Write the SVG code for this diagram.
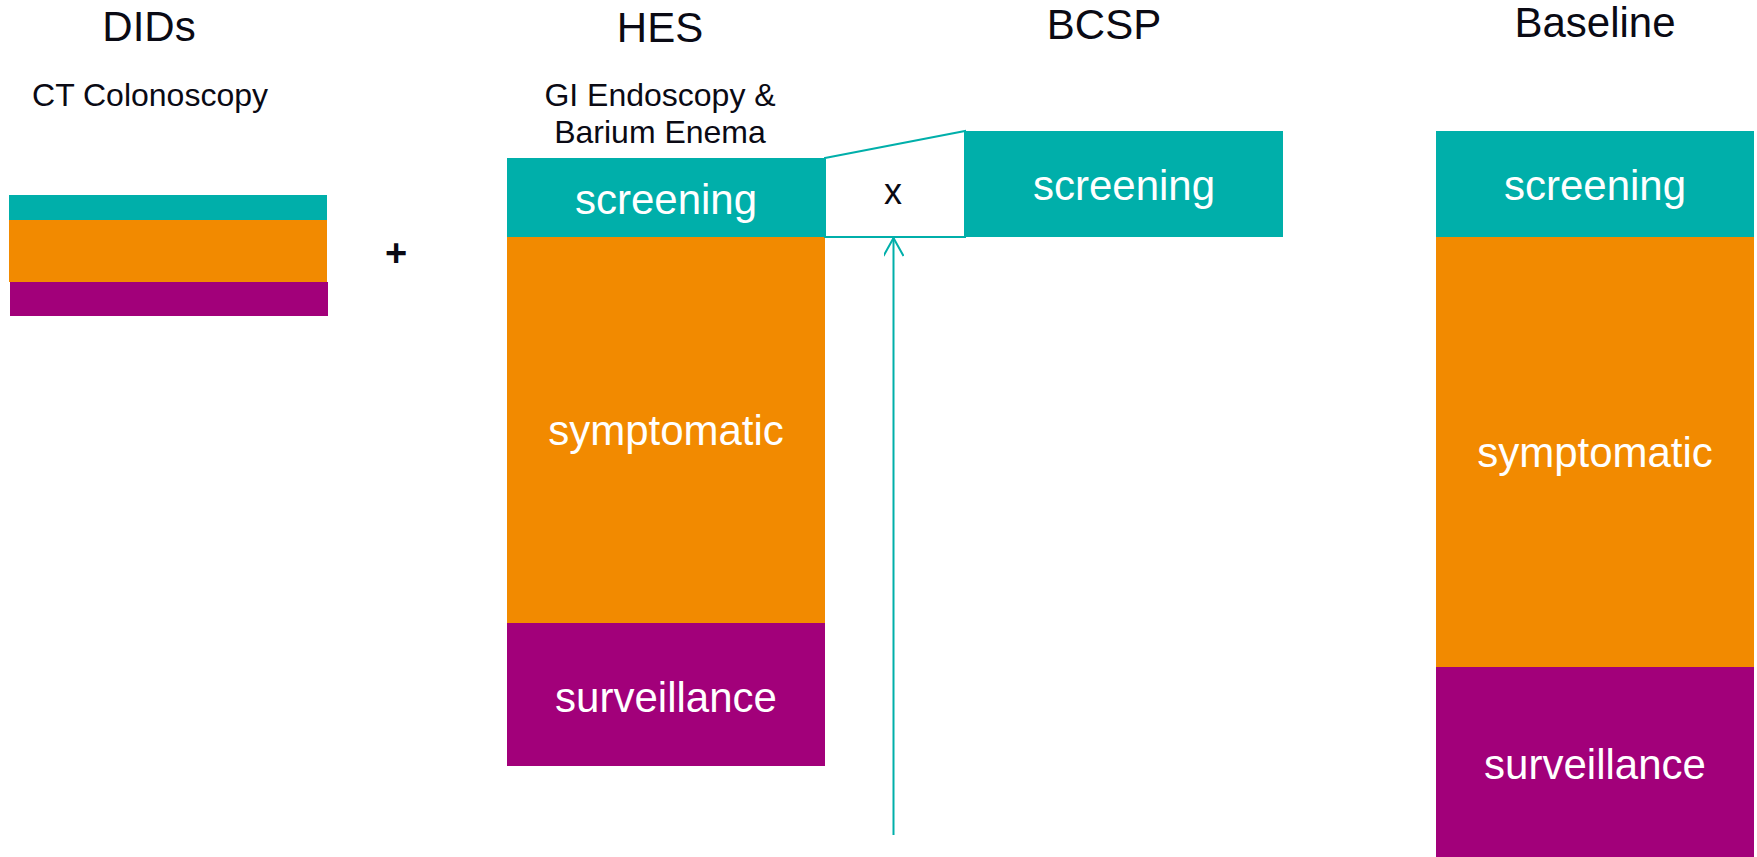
<svg xmlns="http://www.w3.org/2000/svg" width="1757" height="857" viewBox="0 0 1757 857">
<style>
text{font-family:"Liberation Sans",Arial,sans-serif}
.t{font-size:42px;fill:#0a0a14;text-anchor:middle}
.s{font-size:32px;fill:#0a0a14;text-anchor:middle}
.w{font-size:42px;fill:#ffffff;text-anchor:middle}
.teal{fill:#00AFAA}
.org{fill:#F28A00}
.pur{fill:#A2007A}
</style>
<defs>
<marker id="arr" viewBox="0 0 20 20" refX="19" refY="10" markerWidth="20" markerHeight="20" markerUnits="userSpaceOnUse" orient="auto">
<path d="M1,0 L19,10 L1,20" fill="none" stroke="#00AFAA" stroke-width="2"/>
</marker>
</defs>
<rect width="1757" height="857" fill="#ffffff"/>
<g id="titles">
<text class="t" x="149" y="41">DIDs</text>
<text class="t" x="660" y="42">HES</text>
<text class="t" x="1104" y="39">BCSP</text>
<text class="t" x="1595" y="37">Baseline</text>
</g>
<g id="dids">
<text class="s" x="150" y="106">CT Colonoscopy</text>
<rect class="teal" x="9" y="195" width="318" height="25"/>
<rect class="org" x="9" y="220" width="318" height="62"/>
<rect class="pur" x="10" y="282" width="318" height="34"/>
</g>
<g id="plus">
<text x="396" y="266" style="font-size:38px;font-weight:bold;fill:#0a0a14;text-anchor:middle">+</text>
</g>
<g id="hes">
<text class="s" x="660" y="106">GI Endoscopy &amp;</text>
<text class="s" x="660" y="143">Barium Enema</text>
<rect class="teal" x="507" y="158" width="318" height="79"/>
<text class="w" x="666" y="214">screening</text>
<rect class="org" x="507" y="237" width="318" height="386"/>
<text class="w" x="666" y="445">symptomatic</text>
<rect class="pur" x="507" y="623" width="318" height="143"/>
<text class="w" x="666" y="712">surveillance</text>
</g>
<g id="xbox">
<polygon points="825,158 965,131 965,237 825,237" fill="#ffffff" stroke="#00AFAA" stroke-width="2"/>
<text x="893" y="204" style="font-size:36px;fill:#0a0a14;text-anchor:middle">x</text>
</g>
<g id="bcsp">
<rect class="teal" x="965" y="131" width="318" height="106"/>
<text class="w" x="1124" y="200">screening</text>
</g>
<g id="baseline">
<rect class="teal" x="1436" y="131" width="318" height="106"/>
<text class="w" x="1595" y="200">screening</text>
<rect class="org" x="1436" y="237" width="318" height="430"/>
<text class="w" x="1595" y="467">symptomatic</text>
<rect class="pur" x="1436" y="667" width="318" height="190"/>
<text class="w" x="1595" y="779">surveillance</text>
</g>
<g id="connectors">
<line x1="893.5" y1="835" x2="893.5" y2="238" stroke="#00AFAA" stroke-width="2" marker-end="url(#arr)"/>
</g>
</svg>
